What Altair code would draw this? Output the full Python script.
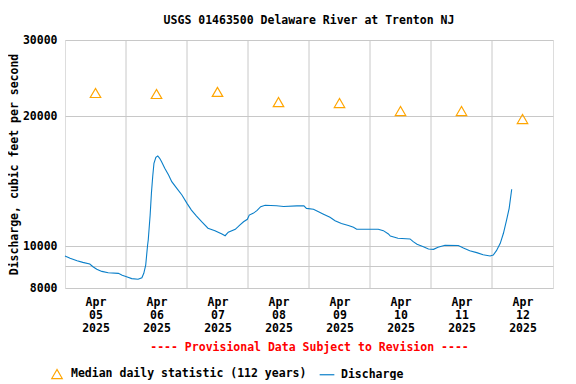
import altair as alt
import pandas as pd

# ---- data -------------------------------------------------------------
flow_times = [
    "2025-04-05T00:00", "2025-04-05T02:00", "2025-04-05T04:45", "2025-04-05T07:00",
    "2025-04-05T09:45", "2025-04-05T11:00", "2025-04-05T12:30", "2025-04-05T14:30",
    "2025-04-05T17:00", "2025-04-05T21:00", "2025-04-05T22:30", "2025-04-06T00:30",
    "2025-04-06T02:15", "2025-04-06T04:45", "2025-04-06T06:15", "2025-04-06T07:00",
    "2025-04-06T07:45", "2025-04-06T08:30", "2025-04-06T08:45", "2025-04-06T09:30",
    "2025-04-06T10:00", "2025-04-06T10:30", "2025-04-06T11:00", "2025-04-06T11:45",
    "2025-04-06T12:30", "2025-04-06T13:15", "2025-04-06T14:00", "2025-04-06T15:15",
    "2025-04-06T16:45", "2025-04-06T18:00", "2025-04-06T20:00", "2025-04-06T22:00",
    "2025-04-07T00:00", "2025-04-07T01:45", "2025-04-07T03:45", "2025-04-07T05:45",
    "2025-04-07T08:15", "2025-04-07T11:00", "2025-04-07T13:45", "2025-04-07T15:00",
    "2025-04-07T16:15", "2025-04-07T19:00", "2025-04-07T20:45", "2025-04-07T22:15",
    "2025-04-07T23:45", "2025-04-08T00:30", "2025-04-08T02:00", "2025-04-08T03:30",
    "2025-04-08T05:00", "2025-04-08T06:45", "2025-04-08T11:15", "2025-04-08T14:00",
    "2025-04-08T19:15", "2025-04-08T22:00", "2025-04-08T23:00", "2025-04-09T01:45",
    "2025-04-09T03:45", "2025-04-09T05:30", "2025-04-09T08:15", "2025-04-09T10:15",
    "2025-04-09T12:45", "2025-04-09T15:30", "2025-04-09T17:30", "2025-04-09T18:45",
    "2025-04-10T03:15", "2025-04-10T05:15", "2025-04-10T07:15", "2025-04-10T08:00",
    "2025-04-10T11:00", "2025-04-10T15:45", "2025-04-10T17:00", "2025-04-10T18:30",
    "2025-04-10T21:00", "2025-04-10T23:00", "2025-04-11T01:00", "2025-04-11T02:45",
    "2025-04-11T05:30", "2025-04-11T10:45", "2025-04-11T12:45", "2025-04-11T15:15",
    "2025-04-11T18:00", "2025-04-11T20:30", "2025-04-11T23:15", "2025-04-12T00:30",
    "2025-04-12T01:45", "2025-04-12T03:15", "2025-04-12T04:30", "2025-04-12T05:45",
    "2025-04-12T06:45", "2025-04-12T07:45",
]
flow_values = [
    9490, 9370, 9250, 9170, 9090, 8960, 8840, 8740,
    8680, 8650, 8560, 8480, 8410, 8380, 8450, 8650,
    9040, 10060, 10330, 11800, 13250, 14480, 15550, 16060,
    16170, 15970, 15680, 15140, 14610, 14100, 13610, 13130,
    12560, 12120, 11740, 11390, 11000, 10860, 10670, 10570,
    10770, 10940, 11190, 11390, 11540, 11800, 11910, 12080,
    12340, 12430, 12400, 12350, 12390, 12390, 12230, 12170,
    12010, 11870, 11660, 11450, 11280, 11160, 11060, 10940,
    10940, 10860, 10670, 10550, 10430, 10390, 10240, 10100,
    9970, 9850, 9830, 9940, 10050, 10030, 9900, 9760,
    9660, 9550, 9490, 9540, 9760, 10150, 10710, 11500,
    12230, 13540,
]
median_dates = [
    "2025-04-05T12:00", "2025-04-06T12:00", "2025-04-07T12:00", "2025-04-08T12:00",
    "2025-04-09T12:00", "2025-04-10T12:00", "2025-04-11T12:00", "2025-04-12T12:00",
]
median_values = [22620, 22500, 22750, 21550, 21440, 20550, 20550, 19690]
grid_dates = [
    "2025-04-06T00:00", "2025-04-07T00:00", "2025-04-08T00:00", "2025-04-09T00:00",
    "2025-04-10T00:00", "2025-04-11T00:00", "2025-04-12T00:00",
]
y_ticks = [8000, 9000, 10000, 20000, 30000]
label_days = [5, 6, 7, 8, 9, 10, 11, 12]

MED = "Median daily statistic (112 years)"
DIS = "Discharge"
FONT = "DejaVu Sans Mono"
FS = 11.5
ORANGE = "#FFA500"
BLUE = "#0A7FC9"
GRID = "#C8C8C8"

flow_df = pd.DataFrame({"time": flow_times, "cfs": flow_values, "series": DIS})
med_df = pd.DataFrame({"time": median_dates, "cfs": median_values, "series": MED})
grid_df = pd.DataFrame({"time": grid_dates})

x_scale = alt.Scale(domain=[alt.DateTime(year=2025, month=4, date=5),
                            alt.DateTime(year=2025, month=4, date=13)])
y_scale = alt.Scale(type="log", domain=[8000, 30000], nice=False)

x_axis = alt.Axis(
    values=[alt.DateTime(year=2025, month=4, date=d, hours=12) for d in label_days],
    labelExpr="[timeFormat(datum.value, '%b'), timeFormat(datum.value, '%d'), timeFormat(datum.value, '%Y')]",
    grid=False, ticks=False, domain=False,
    labelFont=FONT, labelFontSize=FS, labelFontWeight="bold", labelColor="black",
    labelLineHeight=13, labelPadding=8, labelAngle=0,
    title="---- Provisional Data Subject to Revision ----",
    titleFont=FONT, titleFontSize=FS, titleFontWeight="bold", titleColor="red",
    titlePadding=8,
)
y_axis = alt.Axis(
    values=y_ticks,
    labelExpr="datum.value == 9000 ? '' : format(datum.value, 'd')",
    grid=True, gridColor=GRID, gridWidth=1, ticks=False, domain=False,
    labelFont=FONT, labelFontSize=FS, labelFontWeight="bold", labelColor="black",
    labelPadding=8,
    title="Discharge, cubic feet per second",
    titleFont=FONT, titleFontSize=FS, titleFontWeight="bold", titleColor="black",
    titleX=-51, titleY=124, titleAngle=270, titleBaseline="middle", titleAlign="center",
)

X = alt.X("time:T", scale=x_scale, axis=x_axis)
Y = alt.Y("cfs:Q", scale=y_scale, axis=y_axis)

legend = alt.Legend(
    orient="none", legendX=-14, legendY=328, direction="horizontal", title=None,
    labelFont=FONT, labelFontSize=FS, labelFontWeight="bold", labelColor="black",
    labelLimit=0,
    symbolSize=110, symbolStrokeWidth=1.2, labelOffset=8, columnPadding=10, padding=0,
)
color = alt.Color("series:N",
                  scale=alt.Scale(domain=[MED, DIS], range=[ORANGE, BLUE]),
                  legend=legend)
shape = alt.Shape("series:N",
                  scale=alt.Scale(domain=[MED, DIS], range=["triangle-up", "M-1.4,0H1.4"]),
                  legend=legend)

grid_rules = alt.Chart(grid_df).mark_rule(color=GRID, strokeWidth=1).encode(x=X)

flow_line = alt.Chart(flow_df).mark_line(strokeWidth=1.1, interpolate="linear").encode(
    x=X, y=Y, color=color)

med_pts = alt.Chart(med_df).mark_point(filled=False, size=110, strokeWidth=1.2, opacity=1).encode(
    x=X, y=Y, color=color, shape=shape)

chart = alt.layer(grid_rules, flow_line, med_pts).properties(
    width=488, height=248,
    title=alt.Title("USGS 01463500 Delaware River at Trenton NJ",
                    font=FONT, fontSize=FS, fontWeight="bold", color="black",
                    anchor="middle", offset=8),
    autosize=alt.AutoSizeParams(type="none"),
    padding={"left": 57, "top": 32, "right": 15, "bottom": 92},
).configure_view(stroke="black", strokeWidth=1).configure(background="white")

chart.save("out.html", embed_options={"renderer": "svg", "actions": False})
